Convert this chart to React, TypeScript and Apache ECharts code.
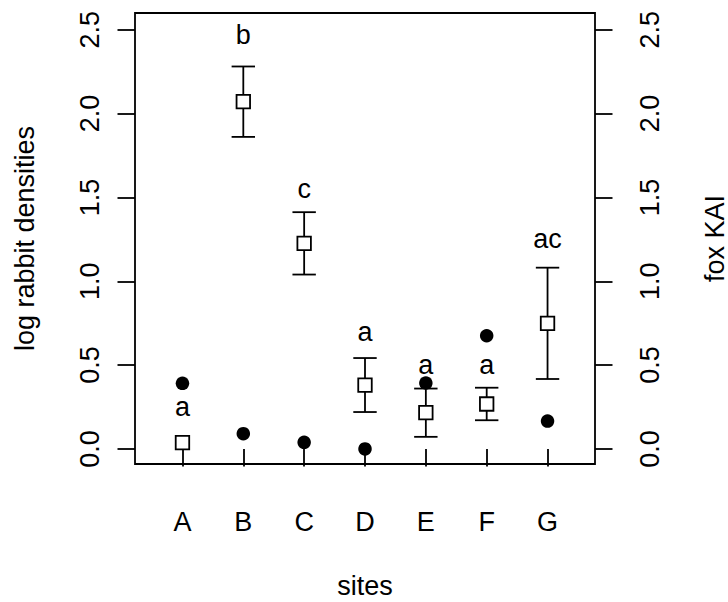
import { useEffect, useRef } from "react";
import * as echarts from "echarts";

// Sites along the x axis (plotted at positions 1..7)
const sites = ["A", "B", "C", "D", "E", "F", "G"];
const sitePositions = [1, 2, 3, 4, 5, 6, 7];

// Mean log rabbit densities and their standard errors
const rabbitMean = [0.037, 2.071, 1.226, 0.381, 0.216, 0.268, 0.749];
const rabbitSE = [0, 0.21, 0.186, 0.161, 0.144, 0.097, 0.332];

// Fox KAI per site (right axis)
const foxKAI = [0.391, 0.091, 0.039, 0.0, 0.393, 0.675, 0.166];

// Significance-group letters and the height they are written at
const groupLetters = ["a", "b", "c", "a", "a", "a", "ac"];
const letterY = [0.25, 2.47, 1.55, 0.7, 0.5, 0.5, 1.25];

// Tick values for both vertical axes
const yTicks = [0, 0.5, 1, 1.5, 2, 2.5];

const FONT = "'Liberation Sans', Arial, Helvetica, sans-serif";
const FS = 27;
const LW = 1.8;
const BLACK = "#000";

export default function App() {
  const ref = useRef<HTMLDivElement>(null);

  useEffect(() => {
    if (!ref.current) return;
    const chart = echarts.init(ref.current, null, { renderer: "svg" });

    const tickStyle = { color: BLACK, width: LW };
    const labelBase = { color: BLACK, fontSize: FS, fontFamily: FONT };

    const yAxisCommon = {
      type: "value",
      min: -0.09,
      max: 2.6,
      axisLine: { show: false },
      splitLine: { show: false },
      axisTick: { show: true, length: 17.5, lineStyle: tickStyle, customValues: yTicks },
      nameLocation: "middle",
      nameRotate: 90,
    };

    chart.setOption({
      animation: false,
      backgroundColor: "#fff",
      grid: {
        left: 135,
        top: 13,
        width: 460,
        height: 451,
        show: true,
        borderColor: BLACK,
        borderWidth: LW,
        backgroundColor: "transparent",
        containLabel: false,
        outerBoundsMode: "none",
      },
      xAxis: {
        type: "value",
        min: 0.22,
        max: 7.78,
        axisLine: { show: false },
        splitLine: { show: false },
        axisTick: { show: true, length: 17.5, lineStyle: tickStyle, customValues: sitePositions },
        axisLabel: {
          ...labelBase,
          margin: 44,
          customValues: sitePositions,
          formatter: (v: number) => sites[Math.round(v) - 1] ?? "",
        },
        name: "sites",
        nameLocation: "middle",
        nameGap: 108,
        nameTextStyle: { ...labelBase },
      },
      yAxis: [
        {
          ...yAxisCommon,
          position: "left",
          axisLabel: {
            ...labelBase,
            rotate: 90,
            margin: 31.5,
            align: "center",
            verticalAlign: "bottom",
            customValues: yTicks,
            formatter: (v: number) => v.toFixed(1),
          },
          name: "log rabbit densities",
          nameGap: 97,
          nameTextStyle: { ...labelBase, align: "center", verticalAlign: "bottom" },
        },
        {
          ...yAxisCommon,
          position: "right",
          axisLabel: {
            ...labelBase,
            rotate: 90,
            margin: 41.5,
            align: "center",
            verticalAlign: "top",
            customValues: yTicks,
            formatter: (v: number) => v.toFixed(1),
          },
          name: "fox KAI",
          nameGap: 106,
          nameTextStyle: { ...labelBase, align: "center", verticalAlign: "top" },
        },
      ],
      series: [
        {
          // standard-error bars with flat caps
          type: "custom",
          xAxisIndex: 0,
          yAxisIndex: 0,
          z: 2,
          silent: true,
          data: sitePositions.map((x, i) => [x, rabbitMean[i], rabbitSE[i]]),
          renderItem: (_params: any, api: any) => {
            const x = api.value(0);
            const m = api.value(1);
            const s = api.value(2);
            if (!s) return { type: "group", children: [] };
            const top = api.coord([x, m + s]);
            const bot = api.coord([x, m - s]);
            const half = 11.7;
            const style = { stroke: BLACK, lineWidth: LW, fill: null };
            return {
              type: "group",
              children: [
                { type: "line", shape: { x1: top[0], y1: top[1], x2: bot[0], y2: bot[1] }, style },
                { type: "line", shape: { x1: top[0] - half, y1: top[1], x2: top[0] + half, y2: top[1] }, style },
                { type: "line", shape: { x1: bot[0] - half, y1: bot[1], x2: bot[0] + half, y2: bot[1] }, style },
              ],
            };
          },
        },
        {
          name: "log rabbit densities",
          type: "scatter",
          xAxisIndex: 0,
          yAxisIndex: 0,
          z: 3,
          symbol: "rect",
          symbolSize: 13.5,
          itemStyle: { color: "#fff", borderColor: BLACK, borderWidth: LW, opacity: 1 },
          data: sitePositions.map((x, i) => [x, rabbitMean[i]]),
        },
        {
          name: "fox KAI",
          type: "scatter",
          xAxisIndex: 0,
          yAxisIndex: 1,
          z: 3,
          symbol: "circle",
          symbolSize: 13.5,
          itemStyle: { color: BLACK, opacity: 1 },
          data: sitePositions.map((x, i) => [x, foxKAI[i]]),
        },
        {
          // group letters written above each site
          type: "custom",
          xAxisIndex: 0,
          yAxisIndex: 0,
          z: 4,
          silent: true,
          data: sitePositions.map((x, i) => [x, letterY[i]]),
          renderItem: (params: any, api: any) => {
            const p = api.coord([api.value(0), api.value(1)]);
            return {
              type: "text",
              x: p[0],
              y: p[1],
              style: {
                text: groupLetters[params.dataIndex],
                fill: BLACK,
                font: `${FS}px ${FONT}`,
                align: "center",
                verticalAlign: "middle",
              },
            };
          },
        },
      ],
    });

    return () => chart.dispose();
  }, []);

  return (
    <div
      ref={ref}
      style={{ position: "absolute", left: 0, top: 0, width: 728, height: 602, background: "#fff" }}
    />
  );
}
